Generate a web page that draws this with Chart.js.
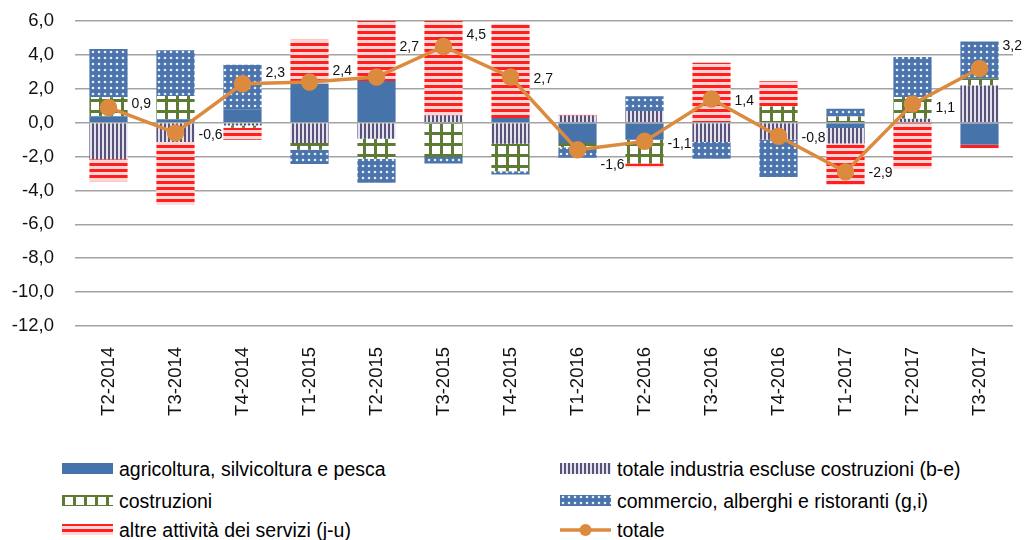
<!DOCTYPE html>
<html>
<head>
<meta charset="utf-8">
<script src="https://cdn.jsdelivr.net/npm/chart.js@4"></script>
<style>
  body { margin: 0; background: #fff; font-family: "Liberation Sans", Arial, sans-serif; }
  #wrap { position: relative; width: 1025px; height: 540px; overflow: hidden; }
  #chart { position: absolute; left: 0; top: -11px; }
  .leg { position: absolute; display: flex; align-items: center; font-size: 19.5px; color: #000; white-space: nowrap; }
  .leg canvas { margin-right: 6px; }
</style>
</head>
<body>
<div id="wrap">
  <canvas id="chart" width="1025" height="451"></canvas>
  <div id="legend"></div>
</div>
<script>
// Trimestri
const categories = ['T2-2014', 'T3-2014', 'T4-2014', 'T1-2015', 'T2-2015', 'T3-2015', 'T4-2015',
                    'T1-2016', 'T2-2016', 'T3-2016', 'T4-2016', 'T1-2017', 'T2-2017', 'T3-2017'];

// contributi per settore
const agricoltura = [0.39, 0.2, 0.79, 2.3, 2.46, 0, 0.28, -1.2, -1.0, 0, 0, -0.31, 0, -1.3];
const industria   = [-2.16, -1.14, -0.16, -1.2, -0.94, 0.43, -1.24, 0.43, 0.69, -1.14, -1.0, -0.92, 0.24, 2.2];
const costruzioni = [1.12, 1.38, -0.14, -0.4, -1.18, -2.02, -1.63, -0.24, -1.4, 0, 0.96, 0.37, 1.28, 0.39];
const commercio   = [2.85, 2.7, 2.64, -0.83, -1.43, -0.39, -0.18, -0.63, 0.88, -0.98, -2.2, 0.45, 2.36, 2.2];
const altre       = [-1.3, -3.7, -0.7, 2.6, 3.8, 6.5, 5.57, 0.06, -0.25, 3.54, 1.49, -2.46, -2.71, -0.2];
const totale      = [0.9, -0.6, 2.3, 2.4, 2.7, 4.5, 2.7, -1.6, -1.1, 1.4, -0.8, -2.9, 1.1, 3.2];

// y ticks
const yTicks = [6, 4, 2, 0, -2, -4, -6, -8, -10, -12];

// vertical nudge of the value labels
const labelDy = [-3, 2, -11, -11, -30, -11, 2, 15, 3, 2, 2, 1, 4, -22];

const fmt = v => v.toFixed(1).replace('.', ',');

// pattern tiles
function tile(w, h, draw) {
    const c = document.createElement('canvas');
    c.width = w; c.height = h;
    draw(c.getContext('2d'));
    return c;
}
const tiles = {
    solid: tile(4, 4, g => { g.fillStyle = '#4674aa'; g.fillRect(0, 0, 4, 4); }),
    vstripe: tile(4, 4, g => {
        g.fillStyle = '#e4e1ee'; g.fillRect(0, 0, 4, 4);
        g.fillStyle = '#5a5379'; g.fillRect(0, 0, 2, 4);
    }),
    grid: tile(11, 11, g => {
        g.fillStyle = '#ffffff'; g.fillRect(0, 0, 11, 11);
        g.fillStyle = '#5e7b35'; g.fillRect(0, 0, 11, 3); g.fillRect(0, 0, 3, 11);
    }),
    dots: tile(6, 6, g => {
        g.fillStyle = '#4a74ab'; g.fillRect(0, 0, 6, 6);
        g.fillStyle = '#e8eef8';
        g.beginPath(); g.arc(3, 3, 1.3, 0, Math.PI * 2); g.fill();
    }),
    hstripe: tile(6, 6, g => {
        g.fillStyle = '#ffd6d6'; g.fillRect(0, 0, 6, 6);
        g.fillStyle = '#ff1f1f'; g.fillRect(0, 0, 6, 3);
    })
};
const ctx = document.getElementById('chart').getContext('2d');
const pat = k => ctx.createPattern(tiles[k], 'repeat');

const series = [
    { label: 'agricoltura, silvicoltura e pesca', data: agricoltura, tile: 'solid' },
    { label: 'totale industria escluse costruzioni (b-e)', data: industria, tile: 'vstripe' },
    { label: 'costruzioni', data: costruzioni, tile: 'grid' },
    { label: 'commercio, alberghi e ristoranti (g,i)', data: commercio, tile: 'dots' },
    { label: 'altre attività dei servizi (j-u)', data: altre, tile: 'hstripe' }
];

const lineColor = '#dc8a3e';
const font = '"Liberation Sans", Arial, sans-serif';

const valueLabels = {
    id: 'valueLabels',
    afterDatasetsDraw(chart) {
        const meta = chart.getDatasetMeta(5);
        const c = chart.ctx;
        c.save();
        c.font = '14px ' + font;
        c.fillStyle = '#111';
        c.textAlign = 'left';
        c.textBaseline = 'middle';
        meta.data.forEach((pt, i) => {
            c.fillText(fmt(totale[i]), pt.x + 23, pt.y + labelDy[i]);
        });
        c.restore();
    }
};

new Chart(ctx, {
    type: 'bar',
    data: {
        labels: categories,
        datasets: [
            ...series.map(s => ({
                label: s.label,
                data: s.data,
                backgroundColor: pat(s.tile),
                borderWidth: 0,
                stack: 'settori',
                order: 1,
                categoryPercentage: 1,
                barPercentage: 0.57
            })),
            {
                type: 'line',
                label: 'totale',
                data: totale,
                borderColor: lineColor,
                backgroundColor: lineColor,
                borderWidth: 3.5,
                pointRadius: 7,
                pointHoverRadius: 7,
                pointBackgroundColor: lineColor,
                pointBorderColor: lineColor,
                stack: 'totale',
                order: 0,
                tension: 0
            }
        ]
    },
    options: {
        responsive: false,
        animation: false,
        layout: { padding: { top: 10, right: 12, left: 0, bottom: 0 } },
        plugins: {
            legend: { display: false },
            tooltip: { enabled: false }
        },
        scales: {
            x: {
                stacked: true,
                grid: { display: false },
                border: { display: false },
                ticks: {
                    minRotation: 90,
                    maxRotation: 90,
                    padding: 13,
                    color: '#111',
                    font: { family: font, size: 18.5 }
                },
                afterFit: s => { s.height = 114; }
            },
            y: {
                stacked: true,
                min: -12,
                max: 6,
                grid: { color: '#a3a3a3', lineWidth: 1.5, drawTicks: false },
                border: { display: false },
                afterBuildTicks: s => { s.ticks = yTicks.map(v => ({ value: v })); },
                ticks: {
                    padding: 21,
                    color: '#111',
                    callback: v => fmt(v),
                    font: { family: font, size: 18.5 }
                },
                afterFit: s => { s.width = 75; }
            }
        }
    },
    plugins: [valueLabels]
});

// legenda
const legendItems = [
    { text: series[0].label, tile: 'solid', x: 62, y: 469 },
    { text: series[1].label, tile: 'vstripe', x: 560, y: 469 },
    { text: series[2].label, tile: 'grid', x: 62, y: 501 },
    { text: series[3].label, tile: 'dots', x: 560, y: 501 },
    { text: series[4].label, tile: 'hstripe', x: 62, y: 530 },
    { text: 'totale', tile: null, x: 560, y: 530 }
];
const legend = document.getElementById('legend');
legendItems.forEach(it => {
    const d = document.createElement('div');
    d.className = 'leg';
    d.style.left = it.x + 'px';
    d.style.top = (it.y - 12) + 'px';
    d.style.height = '24px';
    const sw = document.createElement('canvas');
    sw.width = 51; sw.height = 14;
    const g = sw.getContext('2d');
    if (it.tile) {
        g.fillStyle = g.createPattern(tiles[it.tile], 'repeat');
        g.fillRect(0, 1, 51, 11);
    } else {
        g.strokeStyle = lineColor; g.lineWidth = 3.5;
        g.beginPath(); g.moveTo(0, 7); g.lineTo(51, 7); g.stroke();
        g.fillStyle = lineColor;
        g.beginPath(); g.arc(25.5, 7, 6, 0, Math.PI * 2); g.fill();
    }
    d.appendChild(sw);
    d.appendChild(document.createTextNode(it.text));
    legend.appendChild(d);
});
</script>
</body>
</html>
